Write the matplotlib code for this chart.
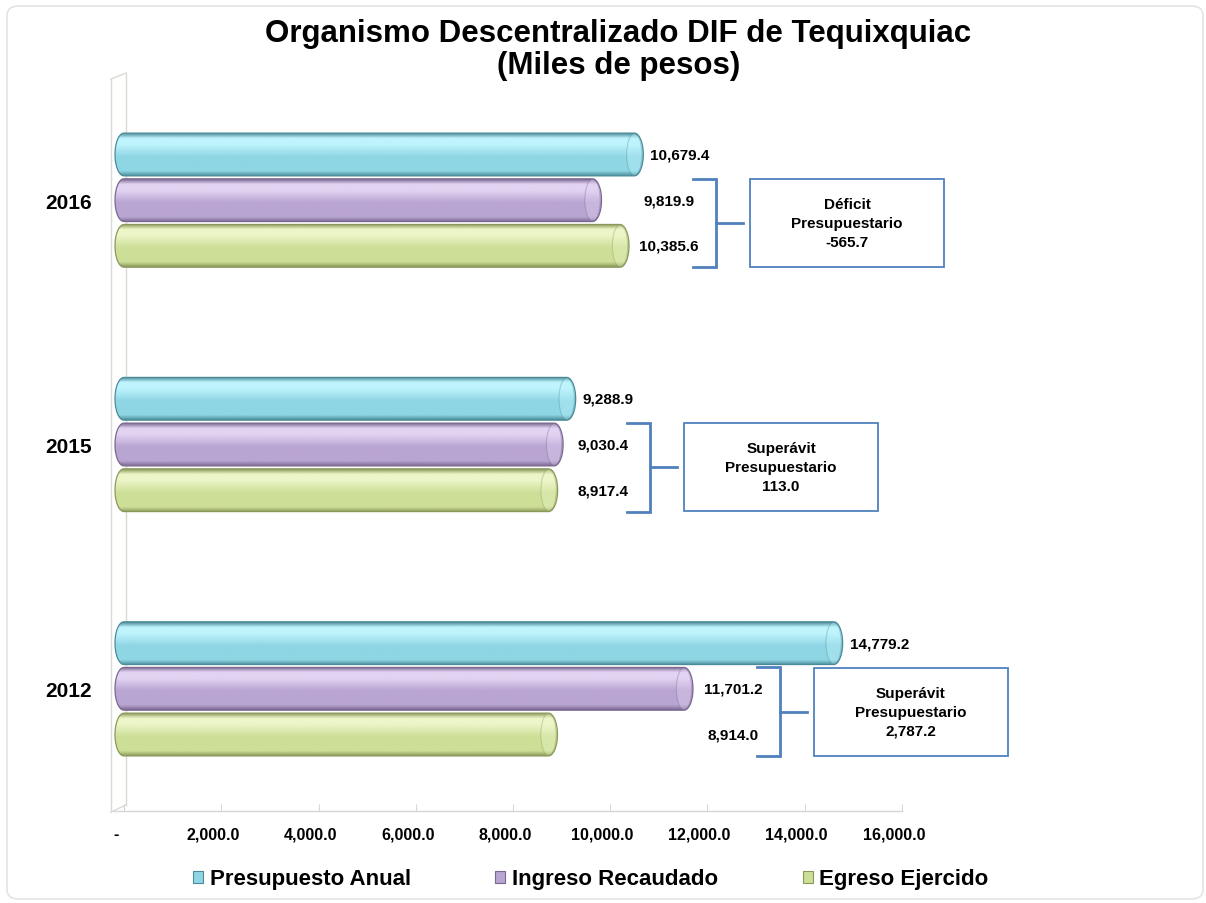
import numpy as np
import matplotlib
matplotlib.use("Agg")
import matplotlib.pyplot as plt
from matplotlib.colors import LinearSegmentedColormap
from matplotlib.patches import Polygon, Ellipse, Rectangle, FancyBboxPatch, Patch
from matplotlib.lines import Line2D
from matplotlib.transforms import ScaledTranslation

# ---------------- data ----------------
years = ["2012", "2015", "2016"]
series = ["Presupuesto Anual", "Ingreso Recaudado", "Egreso Ejercido"]
presupuesto = [14779.2, 9288.9, 10679.4]
ingreso = [11701.2, 9030.4, 9819.9]
egreso = [8914.0, 8917.4, 10385.6]
xticks = [0, 2000, 4000, 6000, 8000, 10000, 12000, 14000, 16000]
xticklabels = ["-", "2,000.0", "4,000.0", "6,000.0", "8,000.0", "10,000.0",
               "12,000.0", "14,000.0", "16,000.0"]
title_lines = ["Organismo Descentralizado DIF de Tequixquiac", "(Miles de pesos)"]

# ---------------- style ----------------
FONT = "Liberation Sans"
plt.rcParams["font.family"] = [FONT, "DejaVu Sans"]
plt.rcParams["font.weight"] = "bold"

# (dark, mid, light) per series
palettes = [
    ("#4a8b98", "#8fd6e4", "#bff4fd"),
    ("#7a6890", "#b9a5d2", "#e2d3f2"),
    ("#8a985a", "#cddf97", "#ecf6c9"),
]
BLUE = "#4f81bd"

W, H = 1206, 904
fig = plt.figure(figsize=(W / 100, H / 100), dpi=100)
fig.patch.set_facecolor("white")
ax = fig.add_axes([114 / W, 92 / H, 788 / W, 733 / H])
XMAX = 16000
XMIN = -10 * XMAX / 788 / (1 - 10 / 788)
ax.set_xlim(XMIN, XMAX)
ax.set_ylim(-0.5, 2.5)

ux = (XMAX - XMIN) / 788.0   # data units per pixel (x)
uy = 3.0 / 733.0             # data units per pixel (y)

step = 0.187
bh = 0.175
offsets = [step, 0.0, -step]
ypos = np.arange(len(years))
data = [presupuesto, ingreso, egreso]

rx = 9 * ux
grad = np.linspace(0, 1, 256).reshape(-1, 1)

containers = []
for si, (vals, off) in enumerate(zip(data, offsets)):
    dark, mid, light = palettes[si]
    cmap = LinearSegmentedColormap.from_list(
        "c%d" % si,
        [(0.0, dark), (0.12, mid), (0.45, mid), (0.74, light), (0.88, light), (1.0, dark)])
    cont = ax.barh(ypos + off, vals, height=bh, left=0, color="none",
                   edgecolor="none", zorder=1)
    containers.append(cont)
    for p in cont.patches:
        x, y, w, hh = p.get_x(), p.get_y(), p.get_width(), p.get_height()
        yc = y + hh / 2
        t1 = np.linspace(np.pi / 2, 3 * np.pi / 2, 50)
        t2 = np.linspace(-np.pi / 2, np.pi / 2, 50)
        left = np.c_[x + rx * np.cos(t1), yc + hh / 2 * np.sin(t1)]
        right = np.c_[x + w - rx + rx * np.cos(t2), yc + hh / 2 * np.sin(t2)]
        poly = Polygon(np.vstack([left, right]), closed=True, facecolor="none",
                       edgecolor=dark, lw=0.9, zorder=3)
        ax.add_patch(poly)
        im = ax.imshow(grad, extent=[x - rx, x + w, y, y + hh], origin="lower",
                       aspect="auto", cmap=cmap, interpolation="bilinear", zorder=2)
        im.set_clip_path(poly)
        # end cap of the cylinder
        cap = Ellipse((x + w - rx, yc), 2 * rx * 0.85, hh * 0.97, facecolor=light,
                      alpha=0.35, edgecolor=dark, lw=0.8, zorder=4)
        ax.add_patch(cap)

ax.set_xlim(XMIN, XMAX)
ax.set_ylim(-0.5, 2.5)

# ---------------- value labels & brackets ----------------
for gi in range(len(years)):
    ax.text(presupuesto[gi] + 7 * ux, ypos[gi] + offsets[0], f"{presupuesto[gi]:,.1f}",
            ha="left", va="center", fontsize=11, fontweight="bold", zorder=5)
    pair_max = max(ingreso[gi], egreso[gi])
    lx = pair_max + 40 * ux
    ax.text(lx, ypos[gi] + offsets[1], f"{ingreso[gi]:,.1f}", ha="center",
            va="center", fontsize=11, fontweight="bold", zorder=5)
    ax.text(lx, ypos[gi] + offsets[2], f"{egreso[gi]:,.1f}", ha="center",
            va="center", fontsize=11, fontweight="bold", zorder=5)
    bx = lx + 47 * ux
    ytop = ypos[gi] + offsets[1] + bh / 2
    ybot = ypos[gi] + offsets[2] - bh / 2
    ymid = (ytop + ybot) / 2
    ax.plot([bx - 23 * ux, bx, bx, bx - 23 * ux], [ytop, ytop, ybot, ybot],
            color=BLUE, lw=2, solid_joinstyle="miter", zorder=5)
    ax.plot([bx, bx + 27 * ux], [ymid, ymid], color=BLUE, lw=2, zorder=5)
    boxx = bx + 34 * ux
    bw, bhh = 194 * ux, 88 * uy
    ax.add_patch(Rectangle((boxx, ymid - bhh / 2), bw, bhh, facecolor="white",
                           edgecolor=BLUE, lw=1.3, zorder=5, clip_on=False))
    diff = ingreso[gi] - egreso[gi]
    kind = "Déficit" if diff < 0 else "Superávit"
    ax.text(boxx + bw / 2, ymid, f"{kind}\nPresupuestario\n{diff:,.1f}",
            ha="center", va="center", fontsize=11, fontweight="bold",
            linespacing=1.45, zorder=6, clip_on=False)

# ---------------- axes styling ----------------
for s in ["top", "right", "left"]:
    ax.spines[s].set_visible(False)
ax.spines["bottom"].set_color("#d6d6d6")
ax.spines["bottom"].set_linewidth(1.0)
ax.set_xticks(xticks)
ax.set_xticklabels(xticklabels, fontsize=11.5, fontweight="bold")
ax.tick_params(axis="x", direction="in", length=5, color="#d6d6d6", pad=11)
shift = ScaledTranslation(-8 / 100, 0, fig.dpi_scale_trans)
for lab in ax.get_xticklabels():
    lab.set_transform(lab.get_transform() + shift)
ax.set_yticks(ypos)
ax.set_yticklabels(years, fontsize=15, fontweight="bold")
ax.tick_params(axis="y", length=0, pad=16)
ax.set_facecolor("none")


def fx(px):
    return px / W


def fy(py):
    return 1 - py / H


# 3D left wall
wall_col = "#dcdad0"
for (x1, y1, x2, y2) in [(111, 80, 111, 813), (126, 74, 126, 806),
                         (111, 80, 126, 74), (111, 813, 126, 806)]:
    fig.add_artist(Line2D([fx(x1), fx(x2)], [fy(y1), fy(y2)], color=wall_col, lw=1.0,
                          zorder=0))

# title
fig.text(0.5128, fy(34), title_lines[0], ha="center", va="center", fontsize=22.5,
         fontweight="bold")
fig.text(0.5128, fy(66), title_lines[1], ha="center", va="center", fontsize=22.5,
         fontweight="bold")

# legend
handles = [Patch(facecolor=palettes[i][1], edgecolor=palettes[i][0], lw=0.8)
           for i in range(3)]
fig.legend(handles, series, loc="center", bbox_to_anchor=(0.49, fy(880)), ncol=3,
           frameon=False, handlelength=0.45, handleheight=0.45, handletextpad=0.3,
           columnspacing=3.8, prop={"family": FONT, "weight": "bold", "size": 16})

# faint outer border
fig.add_artist(FancyBboxPatch((fx(7), fy(900)), fx(1196), (893) / H,
                              boxstyle="round,pad=0,rounding_size=0.01",
                              transform=fig.transFigure, facecolor="none",
                              edgecolor="#e4e4e4", lw=1.2, zorder=0))

fig.savefig("out.png", dpi=100, facecolor="white")
